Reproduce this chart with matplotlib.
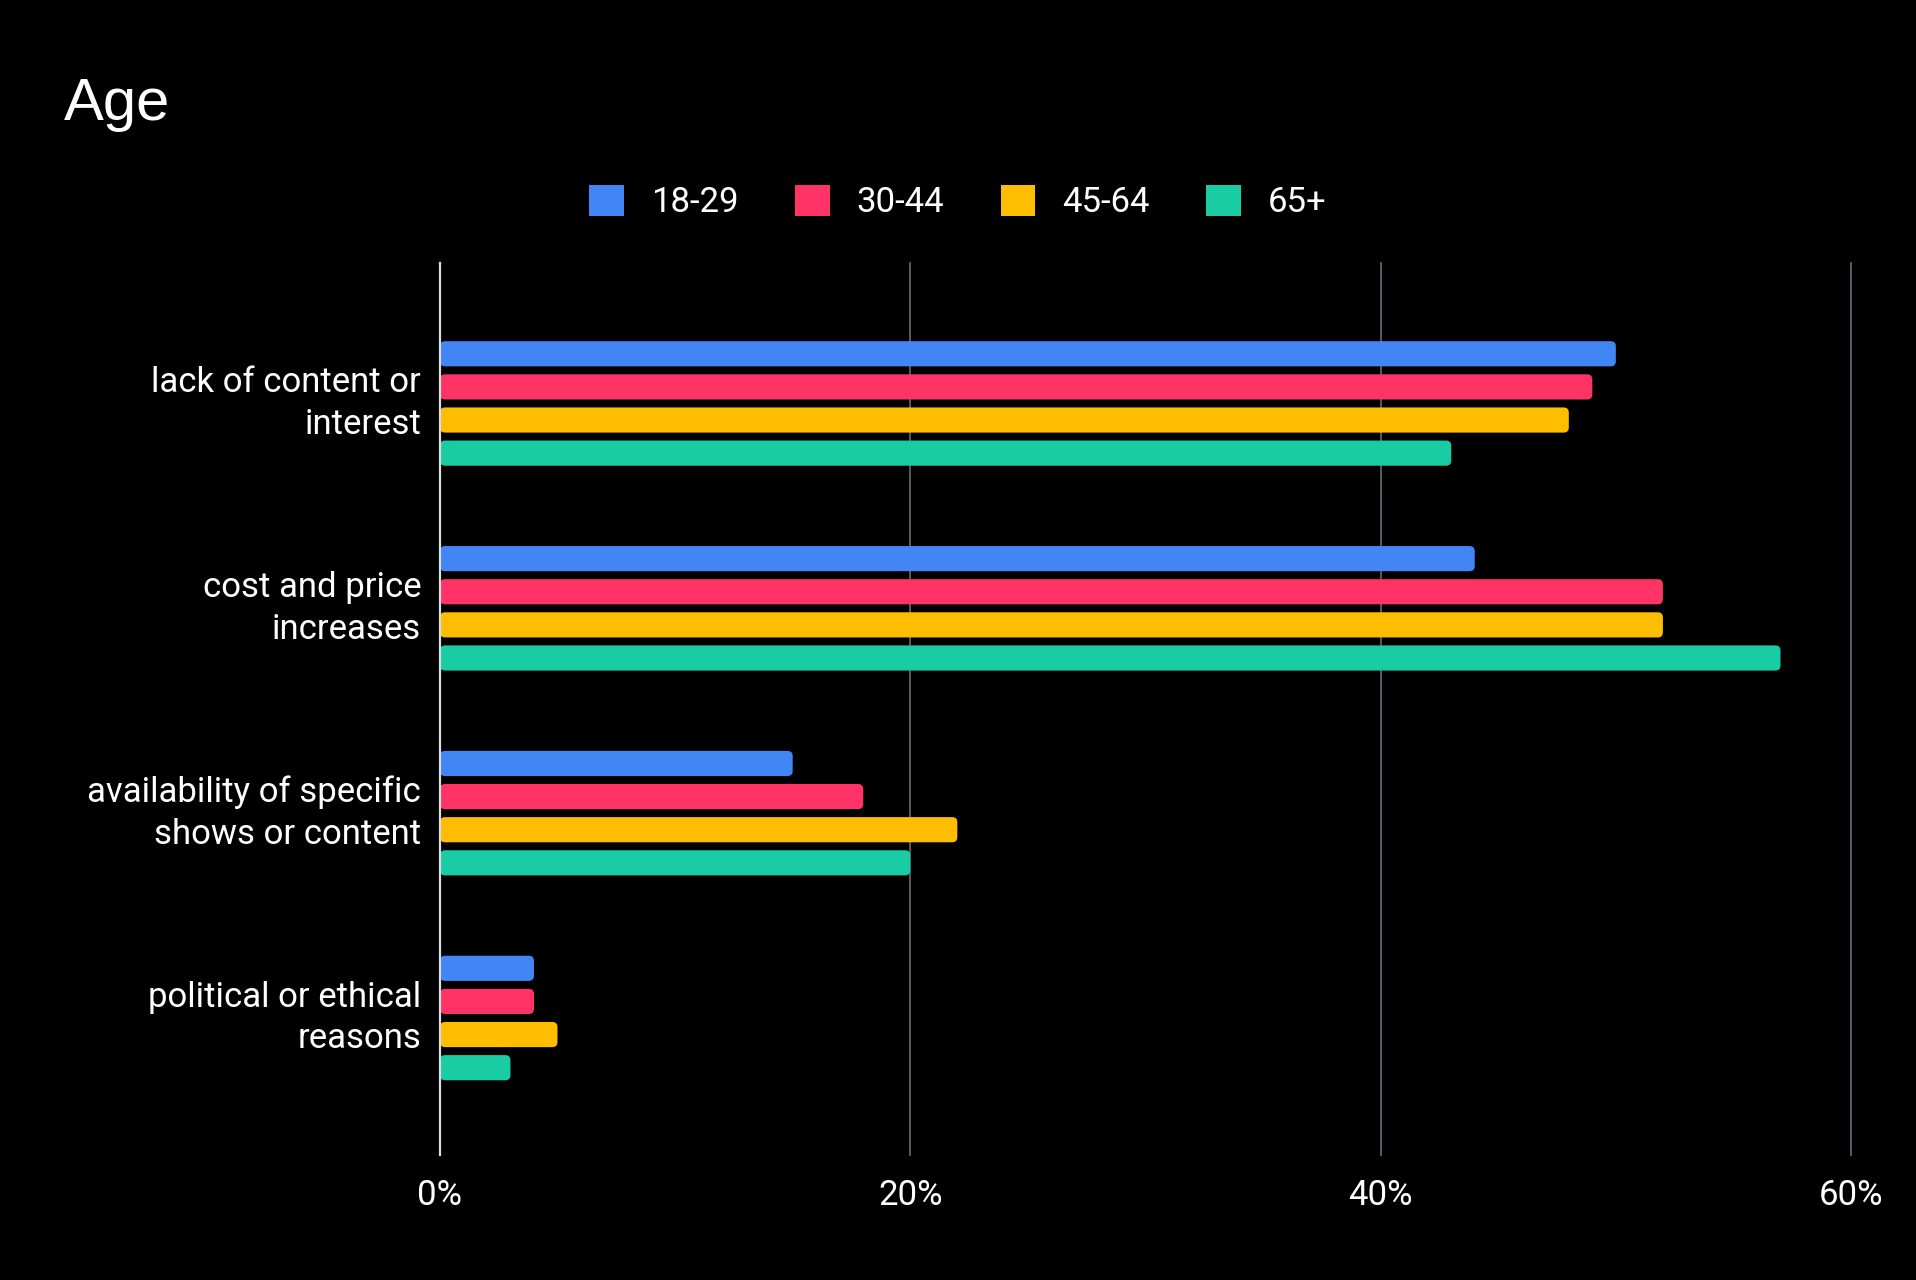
import numpy as np
import matplotlib.pyplot as plt
from matplotlib.patches import FancyBboxPatch, Patch
from matplotlib.transforms import ScaledTranslation

# --- data (percent) ---
categories = ['lack of content or\ninterest',
              'cost and price\nincreases',
              'availability of specific\nshows or content',
              'political or ethical\nreasons']
age_groups = ['18-29', '30-44', '45-64', '65+']
vals_18_29 = [50, 44, 15, 4]
vals_30_44 = [49, 52, 18, 4]
vals_45_64 = [48, 52, 22, 5]
vals_65 = [43, 57, 20, 3]
x_ticks = [0, 20, 40, 60]
x_ticklabels = ['0%', '20%', '40%', '60%']

colors = ['#4285f4', '#ff3366', '#ffbd00', '#19cca4']
series = [vals_18_29, vals_30_44, vals_45_64, vals_65]

bg = 'black'

fig = plt.figure(figsize=(19.16, 12.8), dpi=100, facecolor=bg)
ax = fig.add_axes([0.2296, 0.0977, 0.9661 - 0.2296, 0.7945 - 0.0977])
ax.set_facecolor(bg)

group_step = 6.185
bar_h = 0.76
centers = np.arange(len(categories)) * group_step
offsets = [-1.5, -0.5, 0.5, 1.5]

# bars, then swap each one for a patch with rounded corners
for vals, off, col, lab in zip(series, offsets, colors, age_groups):
    bars = ax.barh(centers + off, vals, height=bar_h, color=col, label=lab)
    for r in bars:
        r.set_visible(False)
        p = FancyBboxPatch((r.get_x(), r.get_y()), r.get_width(), r.get_height(),
                           boxstyle='round,pad=0,rounding_size=0.22',
                           mutation_aspect=0.71, facecolor=col, edgecolor='none',
                           zorder=3)
        ax.add_patch(p)

ax.set_xlim(0, 60)
ax.set_ylim(22.69, -4.24)

ax.set_xticks(x_ticks)
ax.set_xticklabels(x_ticklabels)
ax.set_yticks(centers)
ax.set_yticklabels(categories, linespacing=1.32)
ax.tick_params(axis='both', length=0, colors='white', labelsize=25)
ax.tick_params(axis='x', pad=17)
ax.tick_params(axis='y', pad=13.5)
for t in ax.get_xticklabels() + ax.get_yticklabels():
    t.set_fontfamily('Roboto')
# nudge the two-line labels up a little
up = ScaledTranslation(0, 7.5 / 100, fig.dpi_scale_trans)
for t in ax.get_yticklabels():
    t.set_transform(t.get_transform() + up)

for s in ax.spines.values():
    s.set_visible(False)

for x in x_ticks[1:]:
    ax.axvline(x, color='#5f6368', lw=1.3, zorder=1, clip_on=False)
ax.axvline(0, color='#d8dde3', lw=1.6, zorder=5, clip_on=False)

fig.text(0.0334, 0.906, 'Age', color='white', fontsize=43,
         fontfamily='Liberation Sans', va='baseline', ha='left')

handles = [Patch(facecolor=c, edgecolor='none') for c in colors]
leg = fig.legend(handles, age_groups, loc='center', bbox_to_anchor=(0.5, 0.842),
                 ncol=4, frameon=False, handlelength=1.0,
                 handleheight=1.0, handletextpad=0.78, columnspacing=1.62,
                 prop={'family': 'Roboto', 'size': 25})
for t in leg.get_texts():
    t.set_color('white')

fig.savefig('out.png', dpi=100, facecolor=bg)
